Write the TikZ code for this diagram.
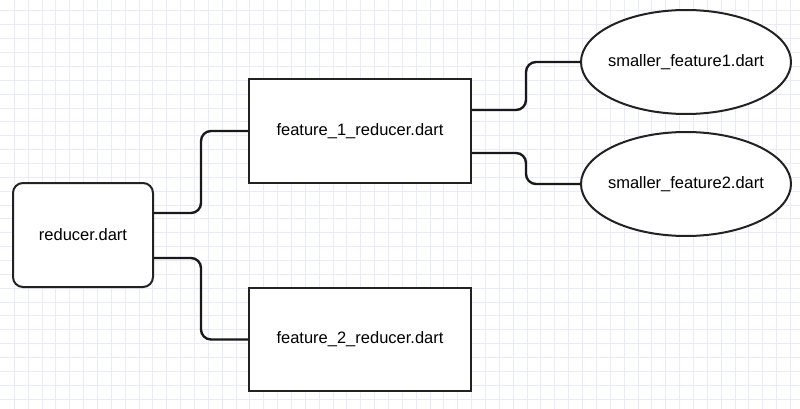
\documentclass[tikz,border=0pt]{standalone}
\usepackage{fontspec}
\setmainfont{Liberation Sans}
\usetikzlibrary{calc,shapes.geometric}
\definecolor{gridc}{RGB}{234,234,253}
\definecolor{edge}{RGB}{34,34,34}
\tikzset{
  box/.style={draw=edge,line width=2pt,fill=white,inner sep=0pt,font=\fontsize{16.5}{19}\selectfont},
  rbox/.style={box,rounded corners=10pt},
  ell/.style={box,ellipse,inner xsep=-5pt},
  conn/.style={draw=black!90,line width=2.4pt,rounded corners=10pt},
  gridline/.style={draw=gridc,line width=1pt}
}
\begin{document}
\begin{tikzpicture}[x=1pt,y=-1pt]
\useasboundingbox (0,0) rectangle (800,409);
\fill[white] (0,0) rectangle (800,409);
\foreach \i in {0,...,57} {
  \draw[gridline] ({14.3+13.86*\i},0) -- ({14.3+13.86*\i},409);
}
\foreach \j in {0,...,29} {
  \draw[gridline] (0,{11+13.86*\j}) -- (800,{11+13.86*\j});
}
\node[rbox,minimum width=140pt,minimum height=104pt] (reducer) at (83,235) {reducer.dart};
\node[box,minimum width=222pt,minimum height=104pt] (f1) at (360,131) {feature\_1\_reducer.dart};
\node[box,minimum width=222pt,minimum height=103pt] (f2) at (360,339.5) {feature\_2\_reducer.dart};
\node[ell,minimum width=210pt,minimum height=104pt] (s1) at (686,62) {smaller\_feature1.dart};
\node[ell,minimum width=210pt,minimum height=104pt] (s2) at (686,184) {smaller\_feature2.dart};
\coordinate (m1) at ($(reducer.east)!0.5!(f1.west)$);
\coordinate (m2) at ($(f1.east)!0.5!(s1.west)$);
\draw[conn] ($(reducer.east)+(0,-22)$) -| (m1 |- f1.west) -- (f1.west);
\draw[conn] ($(reducer.east)+(0,23)$) -| (m1 |- f2.west) -- (f2.west);
\draw[conn] ($(f1.east)+(0,-21)$) -| (m2 |- s1.west) -- (s1.west);
\draw[conn] ($(f1.east)+(0,22)$) -| (m2 |- s2.west) -- (s2.west);
\end{tikzpicture}
\end{document}
